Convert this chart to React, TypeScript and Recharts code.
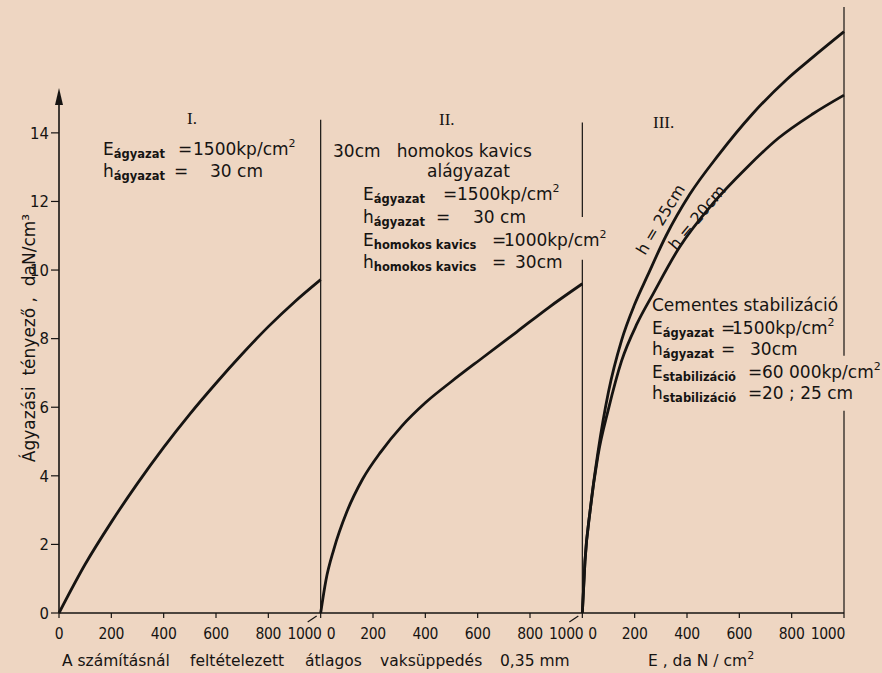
import React from 'react';
import { LineChart, Line, XAxis, YAxis, ReferenceLine, ReferenceDot } from 'recharts';

// Panel I: ágyazat only (E in daN/cm², K in daN/cm³)
const panel1E = [0, 100, 200, 300, 400, 500, 600, 700, 800, 900, 1000];
const panel1K = [0, 1.42, 2.65, 3.78, 4.83, 5.8, 6.7, 7.55, 8.35, 9.07, 9.72];

// Panel II: 30 cm homokos kavics alágyazat
const panel2E = [0, 20, 50, 100, 160, 230, 310, 400, 500, 620, 750, 870, 1000];
const panel2K = [0, 0.95, 1.85, 2.95, 3.9, 4.7, 5.45, 6.13, 6.75, 7.45, 8.2, 8.9, 9.6];

// Panel III: cementes stabilizáció, h = 25 cm
const panel3E25 = [0, 10, 30, 60, 100, 150, 200, 250, 320, 410, 520, 650, 780, 880, 1000];
const panel3K25 = [0, 1.5, 3.0, 4.7, 6.45, 7.95, 9.0, 9.85, 11.0, 12.2, 13.35, 14.55, 15.55, 16.2, 16.95];

// Panel III: cementes stabilizáció, h = 20 cm
const panel3E20 = [0, 10, 30, 60, 100, 150, 210, 270, 370, 500, 630, 750, 880, 1000];
const panel3K20 = [0, 1.5, 3.0, 4.6, 5.95, 7.35, 8.45, 9.3, 10.65, 11.95, 13.0, 13.85, 14.55, 15.1];

const xTicks = [0, 200, 400, 600, 800, 1000, 1200, 1400, 1600, 1800, 2000, 2200, 2400, 2600, 2800, 3000];
const yTicks = [0, 2, 4, 6, 8, 10, 12, 14];

const PANEL_WIDTH = 1000; // each panel is its own 0..1000 E scale
const Y_MAX = 17.67;

const INK = '#161412';
const PAPER = '#eed6c2';
const SANS = "'DejaVu Sans', 'Liberation Sans', sans-serif";
const NARROW = "'Liberation Sans Narrow', 'DejaVu Sans Condensed', 'Liberation Sans', sans-serif";
const SERIF = "'Liberation Serif', 'DejaVu Serif', serif";

const TICK_SIZE = 5;
const TICK_MARGIN = 10;

function toSeries(es: number[], ks: number[], panel: number) {
  return es.map((e, i) => ({ x: panel * PANEL_WIDTH + e, k: ks[i] }));
}

const series1 = toSeries(panel1E, panel1K, 0);
const series2 = toSeries(panel2E, panel2K, 1);
const series3a = toSeries(panel3E25, panel3K25, 2);
const series3b = toSeries(panel3E20, panel3K20, 2);

function XTick(props: any) {
  const { x, y, payload } = props;
  const v: number = payload.value;
  const axisY = y - TICK_SIZE - TICK_MARGIN;
  const txt = { fontFamily: NARROW, fontSize: 15.5, fill: INK, letterSpacing: -0.3 };
  if (v > 0 && v % PANEL_WIDTH === 0) {
    const last = v === 3 * PANEL_WIDTH;
    return (
      <g>
        <text x={x + 1} y={y} dy="0.71em" textAnchor="end" {...txt}>1000</text>
        {!last && <text x={x + 6} y={y} dy="0.71em" textAnchor="start" {...txt}>0</text>}
        {!last && <line x1={x - 13} y1={axisY + 9} x2={x - 4} y2={axisY + 3} stroke={INK} strokeWidth={1.2} />}
      </g>
    );
  }
  return (
    <text x={x} y={y} dy="0.71em" textAnchor="middle" {...txt}>{v % PANEL_WIDTH}</text>
  );
}

function Arrow(props: any) {
  const { cx, cy } = props;
  return <polygon points={`${cx},${cy} ${cx - 4},${cy + 17} ${cx + 4},${cy + 17}`} fill={INK} />;
}

interface FormulaProps {
  x: number;
  y: number;
  sym: string;
  sub: string;
  eq?: string;
  eqX?: number;
  val: string;
  valX: number;
  sup?: string;
}

function Formula({ x, y, sym, sub, eq, eqX, val, valX, sup }: FormulaProps) {
  return (
    <text x={x} y={y} fontFamily={SANS} fontSize={17} fill={INK} style={{ whiteSpace: 'pre' }}>
      <tspan>{sym}</tspan>
      <tspan fontSize={11.5} fontWeight="bold" dy={3}>{sub}</tspan>
      {eq && <tspan x={eqX} y={y}>{eq}</tspan>}
      <tspan x={valX} y={y}>{val}</tspan>
      {sup && <tspan fontSize={11} dy={-8}>{sup}</tspan>}
    </text>
  );
}

function Annotations() {
  return (
    <svg width={882} height={673} style={{ position: 'absolute', left: 0, top: 0, pointerEvents: 'none', overflow: 'visible' }}>
      <text x={35} y={338} transform="rotate(-90 35 338)" textAnchor="middle" fontFamily={SANS} fontSize={17} fill={INK} style={{ whiteSpace: 'pre' }}>
        Ágyazási  tényező ,  daN/cm³
      </text>

      {/* I */}
      <text x={187} y={124} fontFamily={SERIF} fontSize={17} fill={INK}>I.</text>
      <Formula x={103} y={155} sym="E" sub="ágyazat" eq="=" eqX={178} val="1500kp/cm" valX={193} sup="2" />
      <Formula x={103} y={177} sym="h" sub="ágyazat" eq="=" eqX={174} val="30 cm" valX={210} />

      {/* II */}
      <text x={439} y={125} fontFamily={SERIF} fontSize={17} fill={INK}>II.</text>
      <text x={333} y={157} fontFamily={SANS} fontSize={17} fill={INK} style={{ whiteSpace: 'pre' }}>30cm   homokos kavics</text>
      <text x={427} y={177} fontFamily={SANS} fontSize={17} fill={INK}>alágyazat</text>
      <Formula x={363} y={200} sym="E" sub="ágyazat" eq="=" eqX={443} val="1500kp/cm" valX={457} sup="2" />
      <Formula x={363} y={223} sym="h" sub="ágyazat" eq="=" eqX={436} val="30 cm" valX={473} />
      <Formula x={363} y={246} sym="E" sub="homokos kavics" eq="=" eqX={492} val="1000kp/cm" valX={504} sup="2" />
      <Formula x={363} y={268} sym="h" sub="homokos kavics" eq="=" eqX={492} val="30cm" valX={515} />

      {/* III */}
      <text x={653} y={128} fontFamily={SERIF} fontSize={17} fill={INK}>III.</text>
      <text x={645} y={256} transform="rotate(-59 645 256)" fontFamily={SANS} fontSize={16} fill={INK} style={{ whiteSpace: 'pre' }}>h = 25cm</text>
      <text x={676} y={251} transform="rotate(-50 676 251)" fontFamily={SANS} fontSize={16} fill={INK} style={{ whiteSpace: 'pre' }}>h = 20cm</text>
      <text x={652} y={311} fontFamily={SANS} fontSize={17} fill={INK}>Cementes stabilizáció</text>
      <Formula x={652} y={334} sym="E" sub="ágyazat" eq="=" eqX={721} val="1500kp/cm" valX={732} sup="2" />
      <Formula x={652} y={355} sym="h" sub="ágyazat" eq="=" eqX={721} val="30cm" valX={750} />
      <Formula x={652} y={378} sym="E" sub="stabilizáció" eq="=" eqX={748} val="60 000kp/cm" valX={762} sup="2" />
      <Formula x={652} y={399} sym="h" sub="stabilizáció" eq="=" eqX={748} val="20 ; 25 cm" valX={762} />

      {/* x captions */}
      <g fontFamily={SANS} fontSize={15.5} fill={INK}>
        <text x={62} y={666}>A számításnál</text>
        <text x={190} y={666}>feltételezett</text>
        <text x={305} y={666}>átlagos</text>
        <text x={380} y={666}>vaksüppedés</text>
        <text x={500} y={666}>0,35 mm</text>
        <text x={648} y={666} style={{ whiteSpace: 'pre' }}>
          E , da N / cm<tspan fontSize={11} dy={-7}>2</tspan>
        </text>
      </g>
    </svg>
  );
}

export default function App() {
  return (
    <div style={{ position: 'absolute', left: 0, top: 0, width: 882, height: 673, background: PAPER }}>
      <LineChart width={882} height={673} margin={{ top: 7, right: 38, bottom: 0, left: 0 }}>
        <XAxis
          type="number"
          dataKey="x"
          domain={[0, 3 * PANEL_WIDTH]}
          ticks={xTicks}
          interval={0}
          height={60}
          tickSize={TICK_SIZE}
          tickMargin={TICK_MARGIN}
          axisLine={{ stroke: INK, strokeWidth: 1.5 }}
          tickLine={{ stroke: INK, strokeWidth: 1.2 }}
          tick={<XTick />}
        />
        <YAxis
          type="number"
          domain={[0, Y_MAX]}
          ticks={yTicks}
          interval={0}
          width={59}
          tickSize={8}
          tickMargin={2}
          axisLine={false}
          tickLine={{ stroke: INK, strokeWidth: 1.2 }}
          tick={{ fill: INK, fontSize: 16.5, fontFamily: NARROW }}
        />

        {/* y axis with arrow */}
        <ReferenceLine segment={[{ x: 0, y: 0 }, { x: 0, y: 15.0 }]} stroke={INK} strokeWidth={1.6} />
        <ReferenceDot x={0} y={15.31} r={0} shape={<Arrow />} />

        {/* panel borders */}
        <ReferenceLine segment={[{ x: 1000, y: 0 }, { x: 1000, y: 14.38 }]} stroke={INK} strokeWidth={1.2} />
        <ReferenceLine segment={[{ x: 2000, y: 0 }, { x: 2000, y: 10.3 }]} stroke={INK} strokeWidth={1.2} />
        <ReferenceLine segment={[{ x: 2000, y: 11.55 }, { x: 2000, y: 14.3 }]} stroke={INK} strokeWidth={1.2} />
        <ReferenceLine segment={[{ x: 3000, y: 0 }, { x: 3000, y: 5.9 }]} stroke={INK} strokeWidth={1.2} />
        <ReferenceLine segment={[{ x: 3000, y: 7.5 }, { x: 3000, y: Y_MAX }]} stroke={INK} strokeWidth={1.2} />

        <Line data={series1} dataKey="k" type="monotone" stroke={INK} strokeWidth={2.8} dot={false} isAnimationActive={false} />
        <Line data={series2} dataKey="k" type="monotone" stroke={INK} strokeWidth={2.8} dot={false} isAnimationActive={false} />
        <Line data={series3a} dataKey="k" type="monotone" stroke={INK} strokeWidth={2.8} dot={false} isAnimationActive={false} />
        <Line data={series3b} dataKey="k" type="monotone" stroke={INK} strokeWidth={2.8} dot={false} isAnimationActive={false} />
      </LineChart>
      <Annotations />
    </div>
  );
}
